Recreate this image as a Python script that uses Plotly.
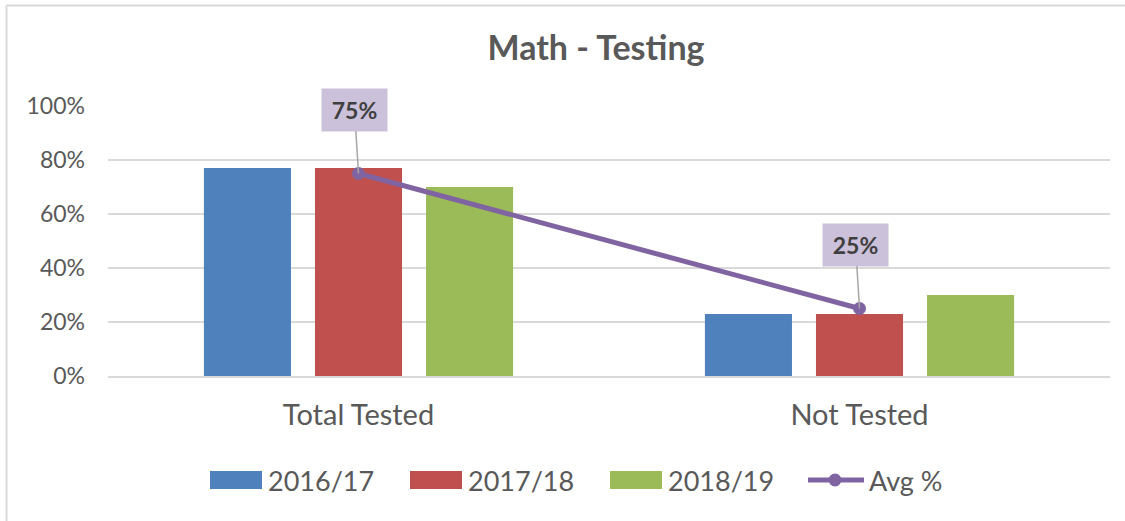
import plotly.graph_objects as go

categories = ["Total Tested", "Not Tested"]
series_names = ["2016/17", "2017/18", "2018/19"]
values_2016 = [0.77, 0.23]
values_2017 = [0.77, 0.23]
values_2018 = [0.70, 0.30]
avg_name = "Avg %"
avg_values = [0.75, 0.25]
avg_labels = ["75%", "25%"]
tick_vals = [0, 0.2, 0.4, 0.6, 0.8, 1.0]
tick_text = ["0%", "20%", "40%", "60%", "80%", "100%"]

colors = ["#4F81BD", "#C0504D", "#9BBB59"]
avg_color = "#8064A2"
text_color = "#595959"
grid_color = "#D9D9D9"
FONT = "Lato"

# page-pixel geometry (body margin removed via post_script)
PL, PR, PT, PB = 108, 1110, 106, 376   # plot area in page pixels
PW, PH = PR - PL, PB - PT
FIG_W, FIG_H = 1125, 521


def px(x):
    return (x - PL) / PW


def py(y):
    return (PB - y) / PH


fig = go.Figure()
for name, vals, col in zip(series_names, [values_2016, values_2017, values_2018], colors):
    fig.add_trace(go.Bar(
        x=categories, y=vals, name=name,
        marker=dict(color=col, line=dict(width=0)),
    ))

fig.add_trace(go.Scatter(
    x=categories, y=avg_values, name=avg_name, mode="lines+markers",
    line=dict(color=avg_color, width=5),
    marker=dict(color=avg_color, size=13),
))

for cat, v, lab in zip(categories, avg_values, avg_labels):
    fig.add_annotation(
        x=cat, y=v, xref="x", yref="y",
        text="<b>" + lab + "</b>",
        showarrow=True, arrowhead=0, arrowwidth=1.5, arrowcolor="#A6A6A6",
        ax=-4, ay=-64, standoff=0,
        bgcolor="#CCC1DA", width=63, height=40,
        font=dict(family=FONT, size=23, color="#404040"),
    )

fig.update_layout(
    width=FIG_W, height=FIG_H,
    margin=dict(l=PL, r=FIG_W - PR, t=PT, b=FIG_H - PB),
    paper_bgcolor="white", plot_bgcolor="white",
    barmode="group", bargap=0.335, bargroupgap=0.216,
    title=dict(text="<b>Math - Testing</b>", x=596 / FIG_W, xanchor="center",
               y=1 - 48 / FIG_H, yref="container", yanchor="middle",
               font=dict(family=FONT, size=34, color=text_color)),
    font=dict(family=FONT, color=text_color),
    showlegend=False,
    xaxis=dict(showgrid=False, showline=True, linecolor=grid_color, linewidth=1.5,
               ticks="", ticklabelstandoff=12,
               tickfont=dict(family=FONT, size=29, color=text_color)),
    yaxis=dict(range=[0, 1.0], tickvals=tick_vals, ticktext=tick_text,
               showgrid=True, gridcolor=grid_color, gridwidth=1.5,
               zeroline=False, showline=False, ticks="", ticklabelstandoff=22,
               tickfont=dict(family=FONT, size=23, color=text_color)),
)

# chart-area frame (left and top edges visible in reference)
fig.add_shape(type="line", xref="paper", yref="paper",
              x0=px(6.5), x1=px(6.5), y0=py(530), y1=py(5.5),
              line=dict(color=grid_color, width=2))
fig.add_shape(type="line", xref="paper", yref="paper",
              x0=px(6.5), x1=px(1130), y0=py(5.5), y1=py(5.5),
              line=dict(color=grid_color, width=2))

# legend drawn to match the Excel-style wide swatches
LEG_Y = 480
swatch_x = [210, 410, 610]
for name, col, sx in zip(series_names, colors, swatch_x):
    fig.add_shape(type="rect", xref="paper", yref="paper",
                  x0=px(sx), x1=px(sx + 52), y0=py(489), y1=py(471),
                  fillcolor=col, line=dict(width=0))
    fig.add_annotation(xref="paper", yref="paper", x=px(sx + 56), y=py(LEG_Y),
                       xanchor="left", yanchor="middle", showarrow=False,
                       text=name, font=dict(family=FONT, size=27, color=text_color))
fig.add_shape(type="line", xref="paper", yref="paper",
              x0=px(808), x1=px(864), y0=py(LEG_Y), y1=py(LEG_Y),
              line=dict(color=avg_color, width=5))
fig.add_shape(type="circle", xref="paper", yref="paper",
              xsizemode="pixel", ysizemode="pixel",
              xanchor=px(835), yanchor=py(LEG_Y),
              x0=-6.5, x1=6.5, y0=-6.5, y1=6.5,
              fillcolor=avg_color, line=dict(width=0))
fig.add_annotation(xref="paper", yref="paper", x=px(867), y=py(LEG_Y),
                   xanchor="left", yanchor="middle", showarrow=False,
                   text=avg_name, font=dict(family=FONT, size=27, color=text_color))

fig.write_html("out.html", config={"displayModeBar": False},
               post_script="document.body.style.margin='0';document.body.style.overflow='hidden';")
